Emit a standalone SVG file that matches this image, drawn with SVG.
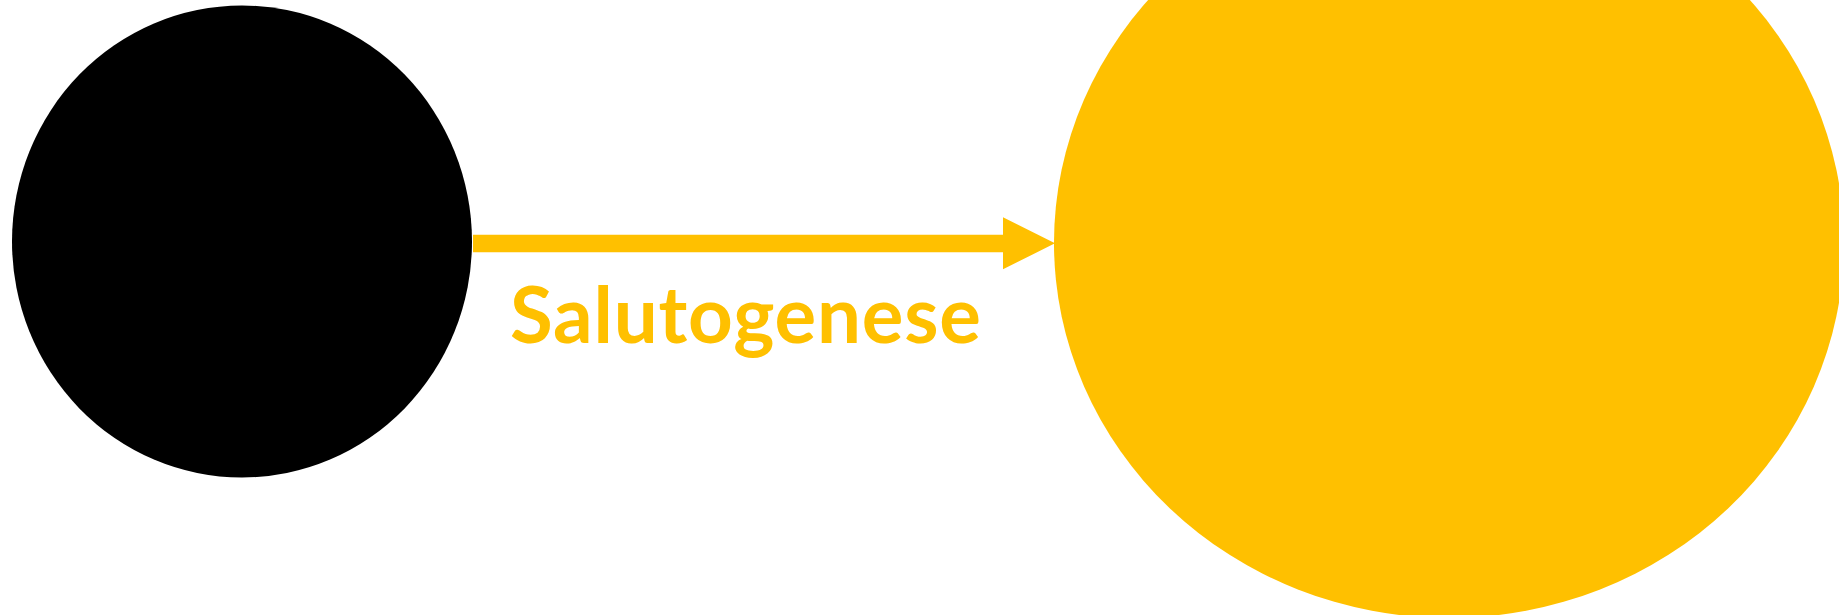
<svg xmlns="http://www.w3.org/2000/svg" width="1839" height="615" viewBox="0 0 1839 615">
  <style>
    .gold { fill: #FFC000; }
    .label { font-family: Lato, "Open Sans", "Liberation Sans", sans-serif; font-weight: bold; font-size: 78px; fill: #FFC000; }
  </style>
  <rect x="0" y="0" width="1839" height="615" fill="#FFFFFF"/>
  <g id="connectors">
    <polygon class="gold" points="473,234.7 1003,234.7 1003,217.3 1055,243.3 1003,269.3 1003,252.3 473,252.3"/>
    <text class="label" x="510" y="342.7" textLength="471" lengthAdjust="spacing">Salutogenese</text>
  </g>
  <g id="node-black">
    <ellipse cx="242" cy="241.5" rx="230" ry="236" fill="#000000"/>
  </g>
  <g id="node-gold">
    <ellipse class="gold" cx="1449" cy="243" rx="395" ry="375"/>
  </g>
</svg>
